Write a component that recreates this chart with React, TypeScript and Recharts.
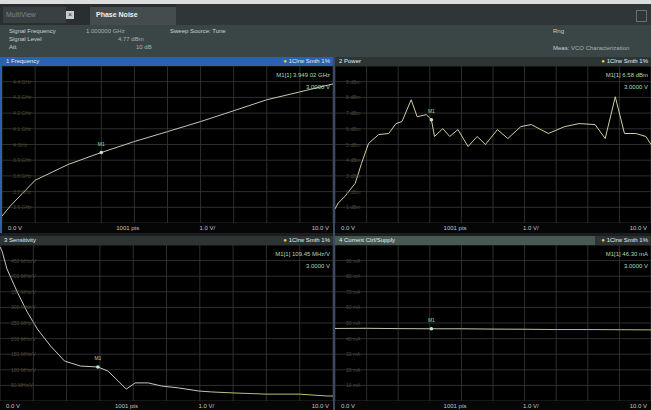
import React from 'react';
import { LineChart, Line, XAxis, YAxis, CartesianGrid, ReferenceDot } from 'recharts';

// ---- data ----
const voltTicks = [0, 1, 2, 3, 4, 5, 6, 7, 8, 9, 10];
const axisLabels = ['0.0 V', '1001 pts', '1.0 V/', '10.0 V'];

const freqVolts = [0, 0.25, 1, 2, 3, 4, 5, 6, 7, 8, 9, 10];
const freqGHz = [3.544, 3.608, 3.772, 3.873, 3.949, 4.019, 4.082, 4.146, 4.215, 4.285, 4.335, 4.386];
const freqTicks = [3.5, 3.6, 3.7, 3.8, 3.9, 4.0, 4.1, 4.2, 4.3, 4.4, 4.5];

const powerVolts = [0, 0.1, 0.32, 0.64, 0.84, 1.06, 1.38, 1.7, 1.93, 2.12, 2.41, 2.6, 2.89, 3.05, 3.15, 3.41, 3.63, 3.89, 4.21, 4.5, 4.76, 5.14, 5.47, 5.88, 6.21, 6.75, 7.27, 7.72, 8.23, 8.55, 8.87, 9.16, 9.52, 9.84, 10];
const powerDbm = [0.9, 1.27, 1.71, 2.53, 3.8, 5.06, 5.63, 5.7, 6.33, 6.46, 7.85, 6.77, 6.9, 6.58, 5.51, 6.01, 5.51, 5.95, 4.87, 5.51, 5.0, 5.95, 5.38, 6.14, 6.27, 5.7, 6.14, 6.33, 6.27, 5.38, 8.04, 5.7, 5.7, 5.51, 5.0];
const powerTicks = [0, 1, 2, 3, 4, 5, 6, 7, 8, 9, 10];

const sensVolts = [0, 0.06, 0.21, 0.52, 0.82, 1.12, 1.52, 1.94, 2.42, 2.94, 3.24, 3.55, 3.79, 4.06, 4.45, 4.85, 5.36, 5.97, 6.36, 6.97, 8.0, 9.0, 9.82, 10];
const sensMHzV = [494, 481, 423, 349, 285, 231, 176, 128, 112, 109, 96, 64, 38, 58, 58, 48, 42, 32, 29, 26, 22, 22, 16, 16];
const sensTicks = [0, 50, 100, 150, 200, 250, 300, 350, 400, 450, 500];

const currVolts = [0, 1, 2, 3, 4, 5, 6, 7, 8, 9, 10];
const currMA = [46.5, 46.6, 46.4, 46.3, 46.3, 46.1, 46.0, 45.8, 45.8, 45.7, 45.6];
const currTicks = [0, 10, 20, 30, 40, 50, 60, 70, 80, 90, 100];

const zip = (xs: number[], ys: number[]) => xs.map((v, i) => ({ v, y: ys[i] }));

const FONT = '"Liberation Sans", "DejaVu Sans", Arial, sans-serif';

type PanelProps = {
  id: string;
  left: number; top: number; width: number; plotH: number;
  title: string; titleBg: string; titleRightBg?: string; border?: string;
  data: { v: number; y: number }[]; domain: [number, number]; ticks: number[];
  unit: string; color: string; color2: string; markerV: number; markerY: number;
  m1: string; m2: string;
};

function makeTick(unit: string, n: number) {
  return (props: any) => {
    const { x, y, payload, index } = props;
    if (index === 0 || index === n - 1) return null;
    return (
      <text x={x + 3} y={y + 2} fontSize={5} fill="#514838" fontFamily={FONT} textAnchor="start">
        {`${payload.value} ${unit}`}
      </text>
    );
  };
}

function Panel(p: PanelProps) {
  const w = p.width - (p.border ? 2 : 0);
  return (
    <div style={{ position: 'absolute', left: p.left, top: p.top, width: p.width, height: 9 + p.plotH + 10, background: '#000', boxSizing: 'border-box', borderLeft: p.border ? `2px solid ${p.border}` : undefined }}>
      <div style={{ height: 9, background: p.titleBg, color: '#e4ecf0', fontSize: 6, lineHeight: '9px', position: 'relative', whiteSpace: 'nowrap' }}>
        <span style={{ paddingLeft: 4 }}>{p.title}</span>
        <span style={{ position: 'absolute', right: 0, top: 0, paddingLeft: 6, paddingRight: 3, background: p.titleRightBg ?? p.titleBg }}>
          <span style={{ color: '#e8d040' }}>●</span> 1Clrw Smth 1%
        </span>
      </div>
      <div style={{ position: 'relative', height: p.plotH }}>
        <LineChart width={w} height={p.plotH} data={p.data} margin={{ top: 0, right: 0, bottom: 0, left: 0 }}>
          <defs>
            <linearGradient id={`g${p.id}`} x1="0" y1="0" x2="1" y2="0">
              <stop offset="0%" stopColor={p.color} />
              <stop offset="58%" stopColor={p.color} />
              <stop offset="72%" stopColor={p.color2} />
              <stop offset="100%" stopColor={p.color2} />
            </linearGradient>
          </defs>
          <CartesianGrid stroke="#3a3a3a" strokeWidth={0.8} />
          <XAxis type="number" dataKey="v" domain={[0, 10]} ticks={voltTicks} hide />
          <YAxis type="number" domain={p.domain} ticks={p.ticks} mirror axisLine={false} tickLine={false}
            tick={makeTick(p.unit, p.ticks.length)} interval={0} />
          <Line type="linear" dataKey="y" stroke={`url(#g${p.id})`} strokeWidth={1} dot={false} isAnimationActive={false} />
          <ReferenceDot x={p.markerV} y={p.markerY} r={1.8} fill="#bfe8c8" stroke="none"
            label={{ value: 'M1', position: 'top', fill: '#9fdcb0', fontSize: 5 }} />
        </LineChart>
        <div style={{ position: 'absolute', right: 3, top: 3, textAlign: 'right', fontSize: 6, lineHeight: '12px', color: '#a8dcb8', fontFamily: FONT }}>
          <div>{p.m1}</div>
          <div>{p.m2}</div>
        </div>
      </div>
      <div style={{ height: 10, background: '#060606', position: 'relative', fontSize: 6, lineHeight: '10px', color: '#c0c4c4' }}>
        <span style={{ position: 'absolute', left: 6 }}>{axisLabels[0]}</span>
        <span style={{ position: 'absolute', left: '38%', transform: 'translateX(-50%)' }}>{axisLabels[1]}</span>
        <span style={{ position: 'absolute', left: '62%', transform: 'translateX(-50%)' }}>{axisLabels[2]}</span>
        <span style={{ position: 'absolute', right: 4 }}>{axisLabels[3]}</span>
      </div>
    </div>
  );
}

export default function App() {
  return (
    <div style={{ position: 'fixed', left: 0, top: 0, width: 651, height: 410, background: '#1a1e20', overflow: 'hidden', fontFamily: FONT }}>
      <div style={{ position: 'absolute', left: 0, top: 0, width: 651, height: 4, background: '#dcdede' }} />
      <div style={{ position: 'absolute', left: 0, top: 4, width: 651, height: 21, background: '#2a2e30' }}>
        <div style={{ position: 'absolute', left: 3, top: 3, width: 60, height: 16, background: '#3a4042', color: '#7c8486', fontSize: 7, lineHeight: '16px', paddingLeft: 3 }}>MultiView</div>
        <div style={{ position: 'absolute', left: 66, top: 7, width: 8, height: 8, background: '#c8cccc', color: '#2a2e30', fontSize: 7, lineHeight: '8px', textAlign: 'center' }}>×</div>
        <div style={{ position: 'absolute', left: 90, top: 3, width: 86, height: 18, background: '#454c4e', color: '#f0f2f2', fontSize: 7, fontWeight: 'bold', lineHeight: '16px', paddingLeft: 6 }}>Phase Noise</div>
        <div style={{ position: 'absolute', left: 176, top: 0, width: 475, height: 21, background: '#303537' }} />
        <div style={{ position: 'absolute', left: 636, top: 6, width: 9, height: 10, border: '1px solid #6a7070' }} />
      </div>
      <div style={{ position: 'absolute', left: 0, top: 25, width: 651, height: 32, background: '#3a4646', color: '#c8d0d0', fontSize: 6 }}>
        <div style={{ position: 'absolute', left: 9, top: 3 }}>Signal Frequency</div>
        <div style={{ position: 'absolute', left: 86, top: 3, color: '#a8b0b0' }}>1.000000 GHz</div>
        <div style={{ position: 'absolute', left: 170, top: 3 }}>Sweep Source: Tune</div>
        <div style={{ position: 'absolute', left: 9, top: 11 }}>Signal Level</div>
        <div style={{ position: 'absolute', left: 118, top: 11, color: '#a8b0b0' }}>4.77 dBm</div>
        <div style={{ position: 'absolute', left: 9, top: 19 }}>Att</div>
        <div style={{ position: 'absolute', left: 136, top: 19, color: '#a8b0b0' }}>10 dB</div>
        <div style={{ position: 'absolute', left: 553, top: 3 }}>Rng</div>
        <div style={{ position: 'absolute', left: 553, top: 20 }}>Meas: <span style={{ color: '#a8b0b0' }}>VCO Characterization</span></div>
      </div>
      <div style={{ position: 'absolute', left: 333, top: 57, width: 2, height: 353, background: '#3a4a60' }} />

      <Panel id="p1" left={0} top={57} width={333} plotH={157} title="1 Frequency" titleBg="#2a62b0" border="#2a62b0"
        data={zip(freqVolts, freqGHz)} domain={[3.5, 4.5]} ticks={freqTicks} unit="GHz" color="#c8c3b0" color2="#c8c3b0"
        markerV={3} markerY={3.949} m1="M1[1]     3.949 02 GHz" m2="3.0000 V" />
      <Panel id="p2" left={335} top={57} width={316} plotH={157} title="2 Power" titleBg="#2c3434"
        data={zip(powerVolts, powerDbm)} domain={[0, 10]} ticks={powerTicks} unit="dBm" color="#cfcfa0" color2="#cfcfa0"
        markerV={3.05} markerY={6.58} m1="M1[1]     6.58 dBm" m2="3.0000 V" />
      <Panel id="p3" left={0} top={236} width={333} plotH={156} title="3 Sensitivity" titleBg="#2c3434"
        data={zip(sensVolts, sensMHzV)} domain={[0, 500]} ticks={sensTicks} unit="MHz/V" color="#c8c8b8" color2="#b8c070"
        markerV={2.94} markerY={109} m1="M1[1]     109.45 MHz/V" m2="3.0000 V" />
      <Panel id="p4" left={335} top={236} width={316} plotH={156} title="4 Current Ctrl/Supply" titleBg="#465a52" titleRightBg="#2c3434"
        data={zip(currVolts, currMA)} domain={[0, 100]} ticks={currTicks} unit="mA" color="#c4c4b0" color2="#b8c078"
        markerV={3.05} markerY={46.3} m1="M1[1]     46.30 mA" m2="3.0000 V" />
    </div>
  );
}
